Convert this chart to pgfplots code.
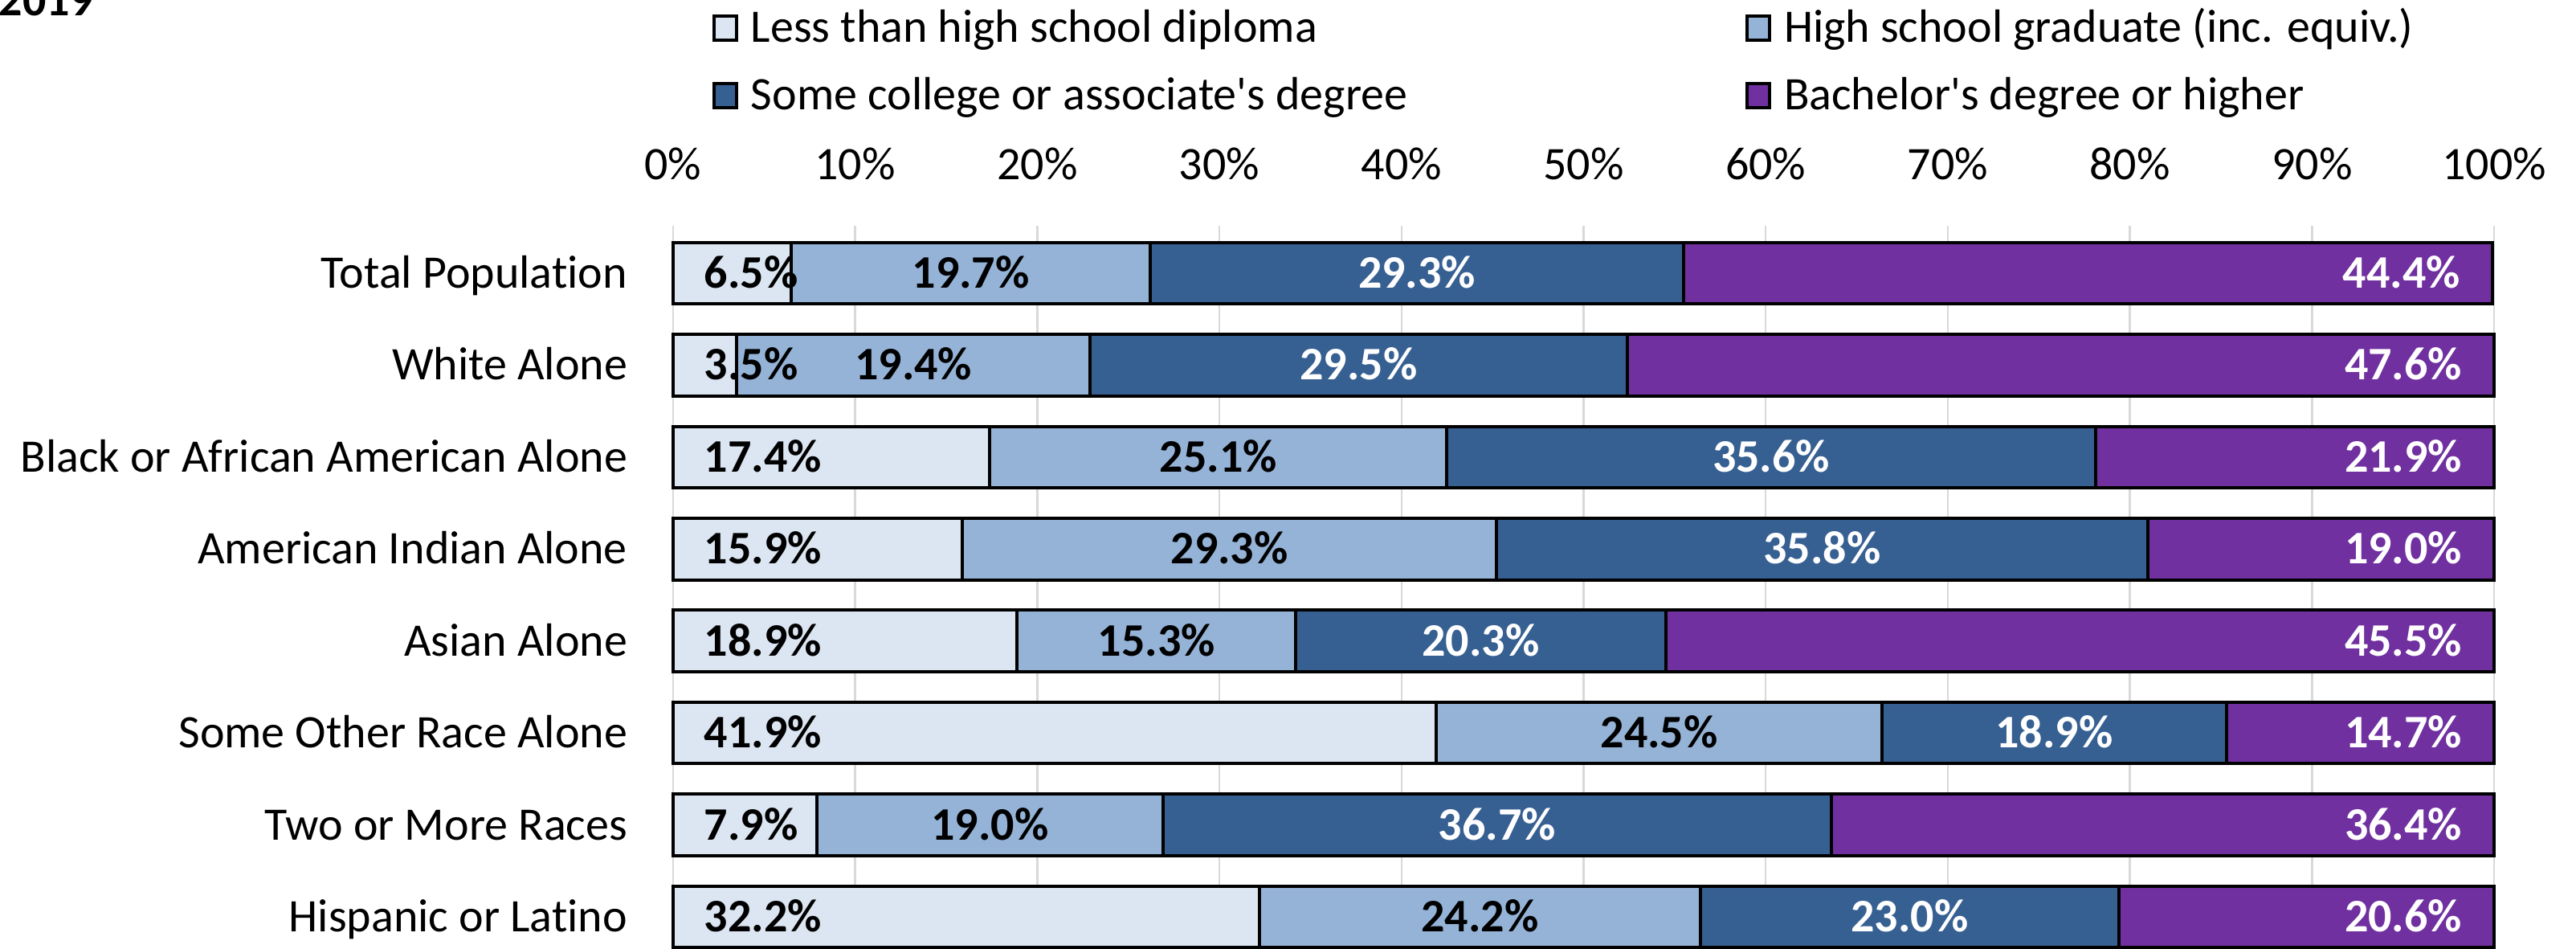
\documentclass[border=0pt]{standalone}
\usepackage{fontspec}
\setmainfont{Carlito}[Ligatures=NoCommon]
\usepackage{pgfplots}
\usepackage{pgfplotstable}
\pgfplotsset{compat=1.18}

\definecolor{lessc}{HTML}{DCE6F2}
\definecolor{hsc}{HTML}{95B3D7}
\definecolor{collc}{HTML}{376092}
\definecolor{bachc}{HTML}{7030A0}
\definecolor{gridc}{HTML}{D9D9D9}

% share of adults 25+ by attainment, percent
\pgfplotstableread{
idx less hs coll bach
7 6.5 19.7 29.3 44.4
6 3.5 19.4 29.5 47.6
5 17.4 25.1 35.6 21.9
4 15.9 29.3 35.8 19.0
3 18.9 15.3 20.3 45.5
2 41.9 24.5 18.9 14.7
1 7.9 19.0 36.7 36.4
0 32.2 24.2 23.0 20.6
}\edu

\pgfplotsset{
  boxleg/.style={legend image code/.code={
    \draw[##1,draw=black,line width=0.8pt] (0.4pt,0.4pt) rectangle (6pt,6.4pt);
    \path[draw=none,fill=none] (0pt,0pt) -- (9.6pt,0pt);}},
  lab/.style={nodes near coords={\pgfplotspointmeta\%},
    point meta=explicit symbolic,
    every node near coord/.style={font=\bfseries,inner sep=0pt,text=#1}},
}

\begin{document}
\fontsize{11.6pt}{14pt}\selectfont
\begin{tikzpicture}
\begin{axis}[
  at={(0pt,0pt)}, anchor=north west,
  scale only axis, width=453.4pt, height=183.8pt,
  xbar stacked, bar width=15.3pt,
  xmin=0, xmax=100, ymin=-0.516, ymax=7.516,
  clip=false,
  axis x line*=top, axis y line*=left, axis line style={draw=none},
  major tick length=0pt,
  xtick={0,10,...,100},
  xticklabel={\pgfmathprintnumber{\tick}\%},
  /pgf/number format/assume math mode=true,
  xticklabel style={anchor=base, inner sep=0pt, yshift=11.6pt},
  xmajorgrids, grid style={draw=gridc, line width=0.5pt},
  ytick={0,...,7},
  yticklabels={Hispanic or Latino, Two or More Races, Some Other Race Alone,
    Asian Alone, American Indian Alone, Black or African American Alone,
    White Alone, Total Population},
  yticklabel style={anchor=base east, inner sep=0pt, xshift=-11.2pt, yshift=-3.7pt},
  legend columns=2,
  legend style={at={(0,1)}, anchor=north west, xshift=9.8pt, yshift=53.2pt,
    draw=none, fill=none, inner sep=0pt, outer sep=0pt,
    column sep=0pt, row sep=9.4pt,
    cells={anchor=base west},
    nodes={inner sep=0pt, text height=7.4pt, text depth=0pt}},
]
% labels of stacked bars sit at the middle of each segment
\addplot[fill=lessc, draw=black, line width=0.8pt, boxleg,
  lab=black, visualization depends on={\thisrow{less} \as \rawx},
  every node near coord/.append style={anchor=base west,
    shift={(axis direction cs:-\rawx/2,0)}, xshift=7.4pt, yshift=-3.7pt}]
  table[x=less, y=idx, meta=less] {\edu};
\addlegendentry{\makebox[247.6pt][l]{Less than high school diploma}}
\addplot[fill=hsc, draw=black, line width=0.8pt, boxleg,
  lab=black,
  every node near coord/.append style={anchor=base, yshift=-3.7pt}]
  table[x=hs, y=idx, meta=hs] {\edu};
\addlegendentry{High school graduate (inc. equiv.)}
\addplot[fill=collc, draw=black, line width=0.8pt, boxleg,
  lab=white,
  every node near coord/.append style={anchor=base, yshift=-3.7pt}]
  table[x=coll, y=idx, meta=coll] {\edu};
\addlegendentry{\makebox[247.6pt][l]{Some college or associate\textquotesingle s degree}}
\addplot[fill=bachc, draw=black, line width=0.8pt, boxleg,
  lab=white, visualization depends on={\thisrow{bach} \as \rawx},
  every node near coord/.append style={anchor=base east,
    shift={(axis direction cs:\rawx/2,0)}, xshift=-7.6pt, yshift=-3.7pt}]
  table[x=bach, y=idx, meta=bach] {\edu};
\addlegendentry{Bachelor\textquotesingle s degree or higher}
\end{axis}
\node[anchor=base west, inner sep=0pt, font=\bfseries] at (-168pt,52.4pt) {2019};
\pgfresetboundingbox
\path[use as bounding box] (-167.6pt,56.2pt) rectangle (473.8pt,-179.8pt);
\end{tikzpicture}
\end{document}
